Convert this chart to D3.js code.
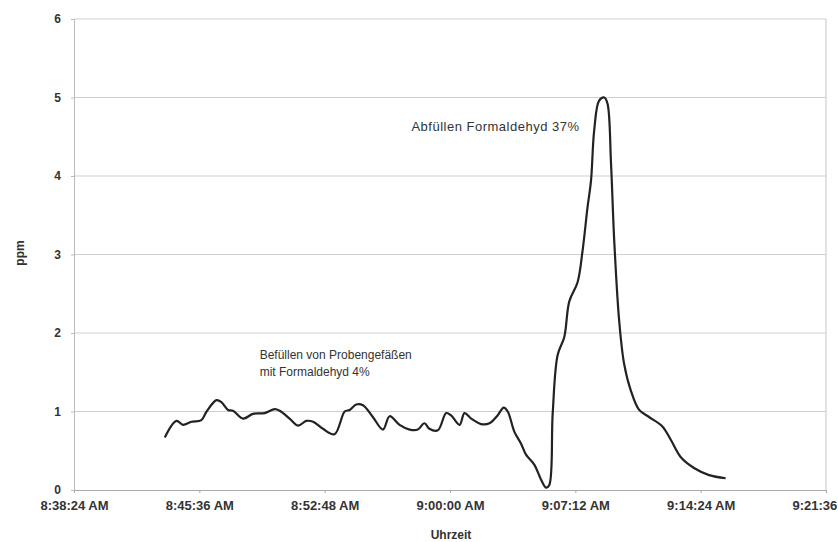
<!DOCTYPE html>
<html>
<head>
<meta charset="utf-8">
<script src="https://cdn.jsdelivr.net/npm/d3@7"></script>
<style>
  html, body { margin: 0; padding: 0; background: #fff; }
  svg { display: block; }
  text { font-family: "Liberation Sans", Arial, sans-serif; fill: #333; }
</style>
</head>
<body>
<svg id="chart" width="838" height="542"></svg>
<script>
// ---- data ----
const times = ["8:43:37","8:44:17","8:44:40","8:45:09","8:45:43","8:46:01","8:46:35","8:46:52","8:47:15","8:47:32",
  "8:48:07","8:48:41","8:49:21","8:49:56","8:50:13","8:50:47","8:51:16","8:51:45","8:52:08","8:52:42",
  "8:53:22","8:53:57","8:54:14","8:54:37","8:55:00","8:55:34","8:56:09","8:56:32","8:57:06","8:57:41",
  "8:58:09","8:58:32","8:58:49","8:59:18","8:59:47","9:00:04","9:00:33","9:00:50","9:01:13","9:01:47",
  "9:02:16","9:02:44","9:03:05","9:03:19","9:03:42","9:04:05","9:04:22","9:04:51","9:05:14","9:05:31",
  "9:05:42","9:05:54","9:06:11","9:06:34","9:06:51","9:07:20","9:07:37","9:07:54","9:08:06","9:08:17",
  "9:08:34","9:08:52","9:09:03","9:09:15","9:09:26","9:09:43","9:10:00","9:10:23","9:10:52","9:11:26",
  "9:12:12","9:12:41","9:13:15","9:14:01","9:14:53","9:15:50"];
const ppm = [0.67,0.88,0.83,0.87,0.89,1.00,1.145,1.12,1.02,1.01,
  0.91,0.97,0.98,1.03,1.01,0.91,0.82,0.88,0.87,0.78,
  0.71,1.00,1.02,1.09,1.08,0.93,0.77,0.94,0.83,0.77,
  0.77,0.85,0.78,0.76,0.98,0.95,0.83,0.98,0.91,0.84,
  0.85,0.95,1.05,1.00,0.74,0.59,0.45,0.32,0.13,0.03,
  0.06,0.98,1.72,1.95,2.40,2.65,3.05,3.60,3.94,4.58,
  4.96,5.00,4.92,4.16,3.18,2.16,1.61,1.27,1.02,0.93,
  0.81,0.64,0.42,0.28,0.19,0.15];
const xTickLabels = ["8:38:24 AM","8:45:36 AM","8:52:48 AM","9:00:00 AM","9:07:12 AM","9:14:24 AM","9:21:36 AM"];
const yTicks = [0,1,2,3,4,5,6];
const noteTimes = ["8:57:47", "8:49:04"];
const noteValues = [4.57, 1.67];
const noteLines = [["Abfüllen Formaldehyd 37%"], ["Befüllen von Probengefäßen", "mit Formaldehyd 4%"]];
const xTitle = "Uhrzeit";
const yTitle = "ppm";

// ---- helpers ----
const parseT = s => { const [h,m,sec] = s.split(":").map(Number); return new Date(2000,0,1,h,m,sec); };
const parseLabel = s => parseT(s.replace(" AM",""));
const data = times.map((t,i) => ({ t: parseT(t), v: ppm[i] }));

const svg = d3.select("#chart");
const margin = { left: 74, right: 12, top: 19, bottom: 52 };
const W = 838, H = 542;
const x = d3.scaleTime()
  .domain([parseLabel(xTickLabels[0]), parseLabel(xTickLabels[xTickLabels.length-1])])
  .range([margin.left, W - margin.right]);
const y = d3.scaleLinear().domain([0, 6]).range([H - margin.bottom, margin.top]);

// gridlines
svg.append("g").selectAll("line").data(yTicks.filter(d => d > 0)).join("line")
  .attr("x1", x.range()[0]).attr("x2", x.range()[1])
  .attr("y1", d => y(d)).attr("y2", d => y(d))
  .attr("stroke", "#cfcfcf").attr("stroke-width", 1.2);

// right border
svg.append("line")
  .attr("x1", x.range()[1]).attr("x2", x.range()[1])
  .attr("y1", y(6)).attr("y2", y(0))
  .attr("stroke", "#cfcfcf").attr("stroke-width", 1.2);

// y axis
const yAxis = d3.axisLeft(y).tickValues(yTicks).tickSize(3).tickFormat(d3.format("d"));
const gy = svg.append("g").attr("transform", `translate(${margin.left},0)`).call(yAxis);
gy.select(".domain").attr("stroke", "#bbb");
gy.selectAll(".tick line").attr("stroke", "#bbb");
gy.selectAll(".tick text").attr("x", -13).style("font-size", "12px").style("font-weight", "bold").attr("fill", "#444");

// x axis
const xAxis = d3.axisBottom(x).tickValues(xTickLabels.map(parseLabel))
  .tickSize(3).tickFormat((d,i) => xTickLabels[i]);
const gx = svg.append("g").attr("transform", `translate(0,${y(0)})`).call(xAxis);
gx.select(".domain").attr("stroke", "#aaa");
gx.selectAll(".tick line").attr("stroke", "#aaa");
gx.selectAll(".tick text").attr("y", 11).style("font-size", "13px").style("font-weight", "bold").attr("fill", "#4a4a4a");

// axis titles
svg.append("text").attr("x", 451).attr("y", 539).attr("text-anchor", "middle")
  .style("font-size", "12px").style("font-weight", "bold").attr("fill", "#444").text(xTitle);
svg.append("text").attr("transform", "translate(24,253) rotate(-90)").attr("text-anchor", "middle")
  .style("font-size", "12px").style("font-weight", "bold").attr("fill", "#444").text(yTitle);

// line
const line = d3.line().x(d => x(d.t)).y(d => y(d.v)).curve(d3.curveCatmullRom.alpha(0.5));
svg.append("path").datum(data).attr("d", line)
  .attr("fill", "none").attr("stroke", "#222").attr("stroke-width", 2.2)
  .attr("stroke-linejoin", "round");

// annotations
noteLines.forEach((lines, k) => {
  const nx = x(parseT(noteTimes[k]));
  const t = svg.append("text").attr("x", nx).attr("y", y(noteValues[k]))
    .style("font-size", k === 0 ? "13px" : "12px")
    .style("letter-spacing", k === 0 ? "0.5px" : "0px")
    .attr("fill", "#333");
  lines.forEach((l, i) => t.append("tspan").attr("x", nx).attr("dy", i ? 17 : 0).text(l));
});
</script>
</body>
</html>
